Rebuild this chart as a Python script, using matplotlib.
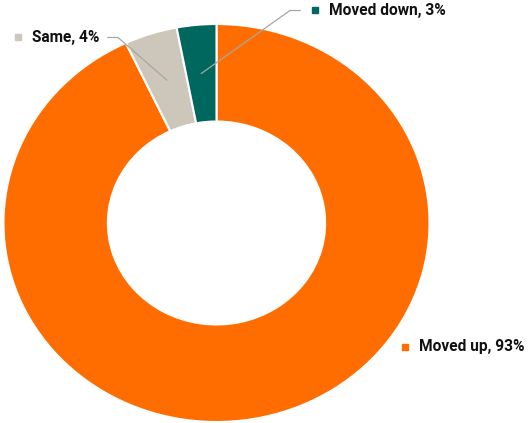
import numpy as np
import matplotlib
matplotlib.use('Agg')
import matplotlib.pyplot as plt
from matplotlib.lines import Line2D

labels = ['Moved up', 'Same', 'Moved down']
shares = [93, 4, 3]
colors = ['#FF6D00', '#CCC6BB', '#00675F']

W, H = 528, 423
plt.rcParams['font.family'] = ['Roboto', 'DejaVu Sans']

fig = plt.figure(figsize=(W / 100, H / 100), dpi=100)
ax = fig.add_axes([3.5 / W, 1 / H, 426 / W, 398 / H])
wedges, _ = ax.pie(shares, colors=colors, startangle=90, counterclock=False,
                   radius=1, wedgeprops=dict(width=0.49, edgecolor='white', linewidth=1.5))
ax.set_aspect('auto')
ax.set_xlim(-1, 1)
ax.set_ylim(-1, 1)

def px(x, y):
    return x / W, 1 - y / H

# label placement in pixels: marker centre, and leader elbow (or None)
label_pos = {
    'Moved up': ((405, 347), None),
    'Same': ((18, 37.5), [(108, 37.5), (118, 37.5)]),
    'Moved down': ((315, 10.5), [(300, 10.5), (290, 10.5)]),
}

to_fig = fig.transFigure.inverted()
for w, lab, v, c in zip(wedges, labels, shares, colors):
    (mx, my), elbow = label_pos[lab]
    fx, fy = px(mx, my)
    fig.add_artist(Line2D([fx], [fy], marker='s', markersize=4.5, color=c,
                          transform=fig.transFigure))
    fig.text(fx + 14 / W, fy, f'{lab}, {v}%', fontsize=11.2, fontweight='bold',
             color='#111111', ha='left', va='center')
    if elbow:
        mid = np.deg2rad((w.theta1 + w.theta2) / 2)
        r = 0.755
        ax_pt = ax.transData.transform((r * np.cos(mid), r * np.sin(mid)))
        ex, ey = to_fig.transform(ax_pt)
        xs = [px(*p)[0] for p in elbow] + [ex]
        ys = [px(*p)[1] for p in elbow] + [ey]
        fig.add_artist(Line2D(xs, ys, color='#A6A6A6', linewidth=0.9,
                              transform=fig.transFigure))

fig.savefig('out.png', dpi=100)
